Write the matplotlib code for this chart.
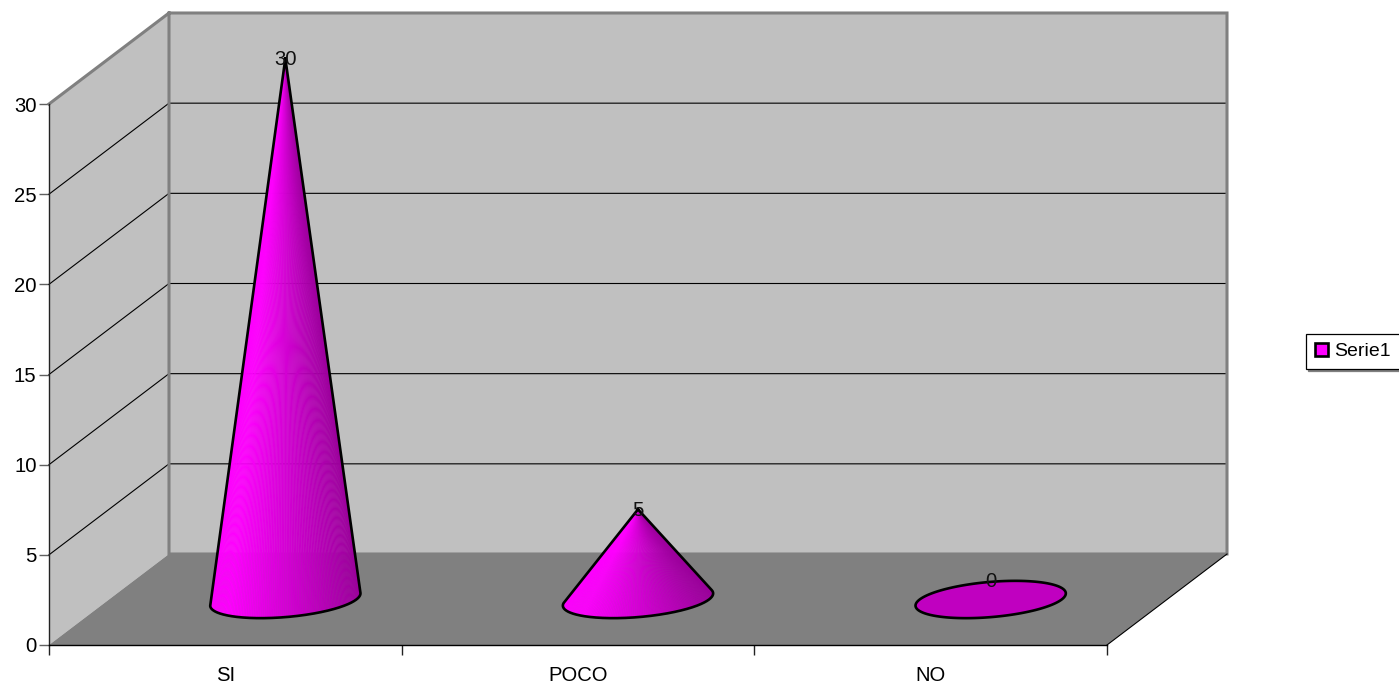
import numpy as np
import matplotlib
matplotlib.use("Agg")
import matplotlib.pyplot as plt
from matplotlib.patches import Patch, Polygon
from matplotlib.collections import PolyCollection
from matplotlib.colors import LinearSegmentedColormap

plt.rcParams["font.family"] = ["Liberation Sans", "DejaVu Sans"]

# data
categories = ["SI", "POCO", "NO"]
values = [30, 5, 0]
series_name = "Serie1"
y_ticks = [0, 5, 10, 15, 20, 25, 30]

W, H = 1399, 684
FS = 14.6

fig = plt.figure(figsize=(W / 100, H / 100), dpi=100)
ax = fig.add_axes([49 / W, 1 - 645 / H, 1058 / W, 541 / H])
ax.set_xlim(0, 3)
ax.set_ylim(0, 30)

# depth of the fake 3d box, in data units
ddx = 120 / (1058 / 3)
ddy = 91 / (541 / 30)
xmax, ymax = 3, 30

# walls and floor
ax.add_patch(Polygon([(0, 0), (ddx, ddy), (ddx, ymax + ddy), (0, ymax)], fc="#c0c0c0", ec="none", clip_on=False, zorder=1))
ax.add_patch(Polygon([(ddx, ddy), (xmax + ddx, ddy), (xmax + ddx, ymax + ddy), (ddx, ymax + ddy)], fc="#c0c0c0", ec="none", clip_on=False, zorder=1))
ax.add_patch(Polygon([(0, 0), (xmax, 0), (xmax + ddx, ddy), (ddx, ddy)], fc="#808080", ec="none", clip_on=False, zorder=1))

# grid lines
for v in y_ticks[1:-1]:
    ax.plot([0, ddx, xmax + ddx], [v, v + ddy, v + ddy], color="black", lw=0.8, clip_on=False, zorder=2)

# gray edges
ax.plot([0, ddx, xmax + ddx, xmax + ddx, ddx, ddx], [ymax, ymax + ddy, ymax + ddy, ddy, ddy, ymax + ddy],
        color="#808080", lw=2.2, clip_on=False, zorder=2, solid_joinstyle="miter")
ax.plot([xmax, xmax + ddx], [0, ddy], color="black", lw=0.8, clip_on=False, zorder=2)

# cones
r1 = 71 / (1058 / 3)
r2 = 31 / np.hypot(120, 92)
cmap = LinearSegmentedColormap.from_list("cone", [(0, "#ff00ff"), (0.12, "#ff00ff"), (1, "#9c009c")])
t = np.linspace(-1.5 * np.pi, 0.5 * np.pi, 721)

for i, val in enumerate(values):
    cx = i + 0.5 + 0.5 * ddx
    cy = 0.5 * ddy
    ex = cx + r1 * np.cos(t) + r2 * np.sin(t) * ddx
    ey = cy + r2 * np.sin(t) * ddy
    if val == 0:
        ax.fill(ex, ey, fc="#c000c0", ec="black", lw=1.9, clip_on=False, zorder=4)
        ax.annotate(str(val), (cx, cy), xytext=(0, 18), textcoords="offset pixels", ha="center", va="center",
                    fontsize=FS, color="#111111", zorder=6, annotation_clip=False)
        continue
    apex = (cx, cy + val)
    ang = np.arctan2(ex - apex[0], apex[1] - ey)
    a, b = np.argmin(ang), np.argmax(ang)
    a, b = min(a, b), max(a, b)
    arc_x, arc_y = ex[a:b + 1], ey[a:b + 1]
    polys, cols = [], []
    n = len(arc_x)
    for j in range(0, n - 1, 3):
        k = min(j + 3, n - 1)
        polys.append([apex, (arc_x[j], arc_y[j]), (arc_x[k], arc_y[k])])
        cols.append(cmap((arc_x[j] - arc_x.min()) / (arc_x.max() - arc_x.min())))
    ax.add_collection(PolyCollection(polys, facecolors=cols, edgecolors=cols, linewidths=0.3, clip_on=False, zorder=4))
    ax.plot(np.r_[apex[0], arc_x, apex[0]], np.r_[apex[1], arc_y, apex[1]], color="black", lw=1.9,
            clip_on=False, zorder=5, solid_joinstyle="round")
    ax.annotate(str(val), apex, xytext=(0, -1), textcoords="offset pixels", ha="center", va="center",
                fontsize=FS, color="#111111", zorder=6, annotation_clip=False)

# axes
for s in ["top", "right"]:
    ax.spines[s].set_visible(False)
ax.spines["left"].set_color("#222222")
ax.spines["bottom"].set_color("black")
for s in ["left", "bottom"]:
    ax.spines[s].set_linewidth(1.0)
    ax.spines[s].set_zorder(3)

ax.set_yticks(y_ticks)
ax.tick_params(axis="y", length=7, width=1, color="#606060", labelsize=FS, pad=2)
ax.set_xticks(range(len(categories) + 1))
ax.set_xticklabels([])
ax.set_xticks(np.arange(len(categories)) + 0.5, categories, minor=True)
ax.tick_params(axis="x", which="major", length=7, width=1, color="#222222")
ax.tick_params(axis="x", which="minor", length=0, labelsize=FS, pad=15)
ax.set_facecolor("none")

# legend
handle = Patch(fc="#ff00ff", ec="black", lw=1.9, label=series_name)
leg = fig.legend(handles=[handle], loc="center left", bbox_to_anchor=(1306 / W, 1 - 351.5 / H),
                 fancybox=False, edgecolor="black", framealpha=1, fontsize=14, handlelength=0.68,
                 handleheight=0.68, handletextpad=0.34, borderpad=0.44, borderaxespad=0,
                 shadow={"color": "#808080", "ox": 1.5, "oy": -1.5, "alpha": 1})
leg.get_frame().set_linewidth(0.9)

fig.savefig("out.png", dpi=100)
